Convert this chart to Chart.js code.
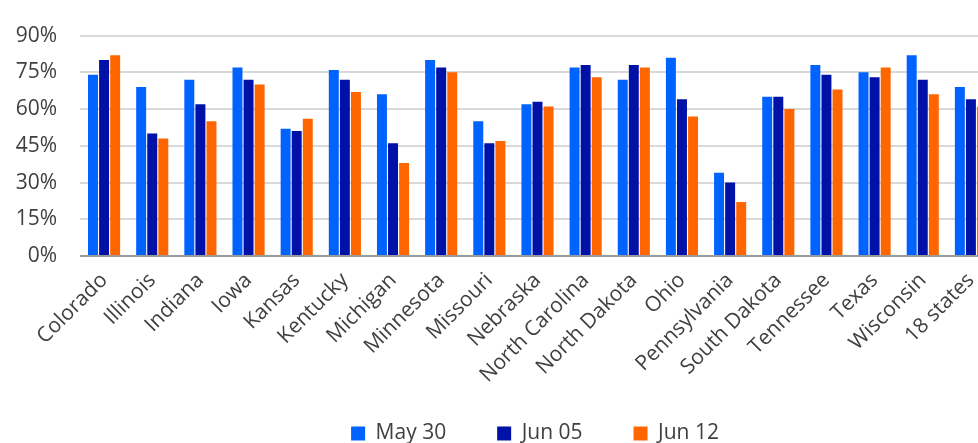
<!DOCTYPE html>
<html>
<head>
<meta charset="utf-8">
<script src="https://cdn.jsdelivr.net/npm/chart.js@4.4.1/dist/chart.umd.min.js"></script>
<style>
  html, body { margin: 0; padding: 0; background: #ffffff; overflow: hidden; }
  #wrap { width: 1070px; height: 454px; }
</style>
</head>
<body>
<div id="wrap"><canvas id="chart" width="1070" height="454"></canvas></div>
<script>
// Share of respondents by state, three survey dates
const states = [
  "Colorado", "Illinois", "Indiana", "Iowa", "Kansas", "Kentucky", "Michigan",
  "Minnesota", "Missouri", "Nebraska", "North Carolina", "North Dakota", "Ohio",
  "Pennsylvania", "South Dakota", "Tennessee", "Texas", "Wisconsin", "18 states"
];
const may30 = [74, 69, 72, 77, 52, 76, 66, 80, 55, 62, 77, 72, 81, 34, 65, 78, 75, 82, 69];
const jun05 = [80, 50, 62, 72, 51, 72, 46, 77, 46, 63, 78, 78, 64, 30, 65, 74, 73, 72, 64];
const jun12 = [82, 48, 55, 70, 56, 67, 38, 75, 47, 61, 73, 77, 57, 22, 60, 68, 77, 66, 61];
const seriesNames = ["May 30", "Jun 05", "Jun 12"];
const yTicks = [0, 15, 30, 45, 60, 75, 90];

const colors = ["#0062ff", "#0011a8", "#ff6600"];
const textColor = "#404040";

Chart.defaults.font.family = '"Open Sans", "Noto Sans", sans-serif';
Chart.defaults.color = textColor;

new Chart(document.getElementById("chart"), {
  type: "bar",
  data: {
    labels: states,
    datasets: [may30, jun05, jun12].map((vals, i) => ({
      label: seriesNames[i],
      data: vals,
      backgroundColor: colors[i],
      borderWidth: 0,
      categoryPercentage: 0.69,
      barPercentage: 0.9
    }))
  },
  options: {
    responsive: false,
    animation: false,
    devicePixelRatio: 1,
    layout: { padding: { top: 10.4, left: 0, right: 0, bottom: 0 } },
    plugins: {
      tooltip: { enabled: false },
      legend: {
        position: "bottom",
        labels: {
          boxWidth: 14,
          boxHeight: 14,
          padding: 51,
          color: textColor,
          font: { size: 21 }
        }
      }
    },
    scales: {
      x: {
        grid: { display: false },
        border: { display: false },
        ticks: {
          autoSkip: false,
          minRotation: 45,
          maxRotation: 45,
          padding: 4,
          color: textColor,
          font: { size: 21 }
        },
        afterFit(scale) {
          scale.height = 116;
          // let the long slanted names run past the axis box instead of being cut
          scale._computeLabelArea = () => undefined;
        }
      },
      y: {
        min: 0,
        max: 90,
        afterBuildTicks(scale) { scale.ticks = yTicks.map(v => ({ value: v })); },
        grid: {
          drawTicks: false,
          lineWidth: 2,
          color: ctx => (ctx.tick && ctx.tick.value === 0 ? "#9a9a9a" : "#d9d9d9")
        },
        border: { display: false },
        ticks: {
          padding: 23,
          color: textColor,
          font: { size: 21 },
          callback: v => v + "%"
        },
        afterFit(scale) { scale.width = 80; }
      },
      // empty right-hand margin so the legend sits centred across the full figure
      rightPad: {
        type: "linear",
        position: "right",
        grid: { display: false },
        border: { display: false },
        ticks: { display: false },
        afterFit(scale) { scale.width = 75; }
      }
    }
  }
});
</script>
</body>
</html>
